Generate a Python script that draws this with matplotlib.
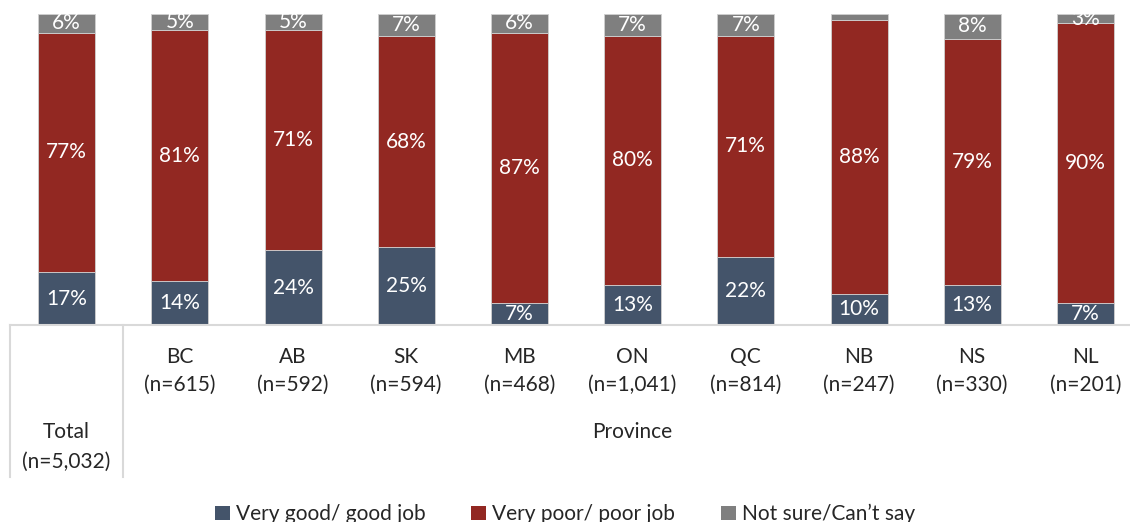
import matplotlib
matplotlib.use("Agg")
from matplotlib import pyplot as plt
from matplotlib.patches import Patch
import numpy as np

plt.rcParams['font.family'] = ['Lato', 'DejaVu Sans']

regions = ["Total", "BC", "AB", "SK", "MB", "ON", "QC", "NB", "NS", "NL"]
sizes = ["5,032", "615", "592", "594", "468", "1,041", "814", "247", "330", "201"]
good = [17, 14, 24, 25, 7, 13, 22, 10, 13, 7]
poor = [77, 81, 71, 68, 87, 80, 71, 88, 79, 90]
unsure = [6, 5, 5, 7, 6, 7, 7, 2, 8, 3]

series = ["Very good/ good job", "Very poor/ poor job", "Not sure/Can\u2019t say"]
colors = ["#44546A", "#922822", "#7F7F7F"]

fig = plt.figure(figsize=(11.3, 5.22), dpi=100)
W, H = 1130, 522
ax = fig.add_axes([10 / W, 1 - 325 / H, 1120 / W, 311 / H])

x = np.arange(len(regions))
step = 113.2
fs = 15
bottom = np.zeros(len(regions))
for vals, c in zip([good, poor, unsure], colors):
    vals = np.array(vals, dtype=float)
    ax.bar(x, vals, bottom=bottom, width=57 / step, color=c,
           edgecolor="#D0D0D0", linewidth=0.6)
    for xi, b, v in zip(x, bottom, vals):
        if v >= 3:
            ax.text(xi, b + v / 2, f"{int(v)}%", ha="center", va="center",
                    color="white", fontsize=fs, clip_on=True)
    bottom += vals

ax.set_xlim(-0.5, -0.5 + 1120 / step)
ax.set_ylim(0, 100)
ax.axis("off")

# category axis
tr = ax.get_xaxis_transform()
line_c = "#D9D9D9"
ax.plot([-0.5, 10], [0, 0], transform=tr, color=line_c, lw=1.5, clip_on=False)
low = -152 / 311
for xv in [-0.5, 0.5]:
    ax.plot([xv, xv], [0, low], transform=tr, color=line_c, lw=1.5, clip_on=False)

txt_c = "#262626"
for i, (r, n) in enumerate(zip(regions, sizes)):
    if i == 0:
        y1, y2 = -(432 - 325) / 311, -(462 - 325) / 311
    else:
        y1, y2 = -(357 - 325) / 311, -(385 - 325) / 311
    ax.text(i, y1, r, transform=tr, ha="center", va="center", fontsize=fs,
            color=txt_c, clip_on=False)
    ax.text(i, y2, f"(n={n})", transform=tr, ha="center", va="center",
            fontsize=fs, color=txt_c, clip_on=False)
ax.text(5, -(432 - 325) / 311, "Province", transform=tr, ha="center",
        va="center", fontsize=fs, color=txt_c, clip_on=False)

handles = [Patch(facecolor=c, label=s) for c, s in zip(colors, series)]
fig.legend(handles=handles, loc="center", bbox_to_anchor=(0.5, 1 - 514 / H),
           ncol=3, frameon=False, fontsize=fs, handlelength=0.7,
           handleheight=0.7, handletextpad=0.3, columnspacing=2.2,
           labelcolor=txt_c)

fig.savefig("out.png", dpi=100)
